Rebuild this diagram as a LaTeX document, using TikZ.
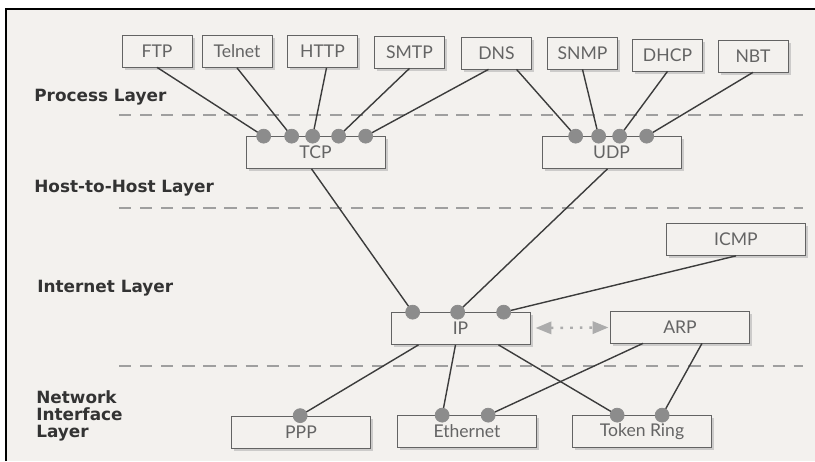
\documentclass[tikz,border=0pt]{standalone}
\usepackage{fontspec}
\setmainfont{Lato}
\newfontfamily\layerfont{DejaVu Sans}
\usetikzlibrary{calc,shadows,arrows.meta}

\definecolor{paper}{RGB}{243,241,238}
\definecolor{ink}{RGB}{60,60,60}
\definecolor{boxtext}{RGB}{100,100,100}
\definecolor{portfill}{RGB}{140,140,140}

\tikzset{
  proto/.style={draw=ink!80, fill=paper, minimum width=1.4cm, minimum height=0.64cm,
    inner sep=0pt, text=boxtext, font=\fontsize{10}{12}\selectfont,
    drop shadow={shadow xshift=1.5pt, shadow yshift=-1.5pt, fill=gray!60, opacity=0.6}},
  wide/.style={proto, minimum width=2.78cm},
  port/.style={circle, draw=gray!90, fill=portfill, minimum size=0.28cm, inner sep=0pt},
  link/.style={draw=ink, line width=0.8pt},
  layer/.style={anchor=west, inner sep=0pt, font=\layerfont\bfseries\fontsize{9.6}{9.8}\selectfont,
    text=black!80, align=left},
  divider/.style={draw=gray!75, line width=0.9pt, dash pattern=on 7pt off 5pt}
}

\begin{document}
\begin{tikzpicture}[x=0.02cm, y=-0.02cm]
  \useasboundingbox (0,0) rectangle (815,461);
  \fill[white] (0,0) rectangle (815,461);
  \fill[paper] (6,9) rectangle (815,461);
  \draw[line width=1pt] (6,461) -- (6,9) -- (815,9);

  % layers
  \node[layer] (process) at (34,97) {Process Layer};
  \node[layer] (host) at (34,188) {Host-to-Host Layer};
  \node[layer] (internet) at (37,288) {Internet Layer};
  \node[layer] (netif) at (36,416) {Network\\Interface\\Layer};
  \foreach \y in {115,208,366}
    \draw[divider] (119,\y) -- (803,\y);

  % application protocols
  \node[proto] (ftp) at (157,51) {FTP};
  \node[proto] (telnet) at (237,51.5) {Telnet};
  \node[proto] (http) at (322.5,51.5) {HTTP};
  \node[proto] (smtp) at (409.5,52) {SMTP};
  \node[proto] (dns) at (496.5,53) {DNS};
  \node[proto] (snmp) at (582.5,53) {SNMP};
  \node[proto] (dhcp) at (667.5,55) {DHCP};
  \node[proto] (nbt) at (753,56) {NBT};

  % lower protocols
  \node[wide] (tcp) at (315.5,152.5) {TCP};
  \node[wide] (udp) at (611.5,152.5) {UDP};
  \node[wide] (icmp) at (736,239.5) {ICMP};
  \node[wide] (ip) at (460.5,328.5) {IP};
  \node[wide] (arp) at (680,327) {ARP};
  \node[wide] (ppp) at (301,432) {PPP};
  \node[wide] (ether) at (467,431.5) {Ethernet};
  \node[wide] (token) at (642,431.5) {Token Ring};

  % ports
  \foreach \dx [count=\i] in {18,46,67,93,120}
    \node[port] (tcp\i) at ($(tcp.north west)+(\dx,0)$) {};
  \foreach \dx [count=\i] in {34,57,78,105}
    \node[port] (udp\i) at ($(udp.north west)+(\dx,0)$) {};
  \foreach \dx [count=\i] in {22,67,113}
    \node[port] (ip\i) at ($(ip.north west)+(\dx,0)$) {};
  \node[port] (ppp1) at ($(ppp.north west)+(69,0)$) {};
  \foreach \dx [count=\i] in {45,91}
    \node[port] (ether\i) at ($(ether.north west)+(\dx,0)$) {};
  \foreach \dx [count=\i] in {45,90}
    \node[port] (token\i) at ($(token.north west)+(\dx,0)$) {};

  % links
  \draw[link] (ftp.south) -- (tcp1);
  \draw[link] (telnet.south) -- (tcp2);
  \draw[link] ($(http.south)+(4,0)$) -- (tcp3);
  \draw[link] (smtp.south) -- (tcp4);
  \draw[link] ($(dns.south)+(-8,0)$) -- (tcp5);
  \draw[link] ($(dns.south)+(20,0)$) -- (udp1);
  \draw[link] (snmp.south) -- (udp2);
  \draw[link] (dhcp.south) -- (udp3);
  \draw[link] (nbt.south) -- (udp4);
  \draw[link] ($(tcp.south)+(-4,0)$) -- (ip1);
  \draw[link] ($(udp.south)+(-4,0)$) -- (ip2);
  \draw[link] (icmp.south) -- (ip3);
  \draw[link] ($(ip.south)+(-42,0)$) -- (ppp1);
  \draw[link] ($(ip.south)+(-5,0)$) -- (ether1);
  \draw[link] ($(ip.south)+(38,0)$) -- (token1);
  \draw[link] ($(arp.south)+(-37,0)$) -- (ether2);
  \draw[link] ($(arp.south)+(22,0)$) -- (token2);
  \draw[gray!65, line width=1.4pt, dash pattern=on 1.5pt off 4pt,
    {Triangle[length=9pt,width=7pt]}-{Triangle[length=9pt,width=7pt]},
    shorten <=3pt, shorten >=1pt] (ip) -- (arp);
\end{tikzpicture}
\end{document}
